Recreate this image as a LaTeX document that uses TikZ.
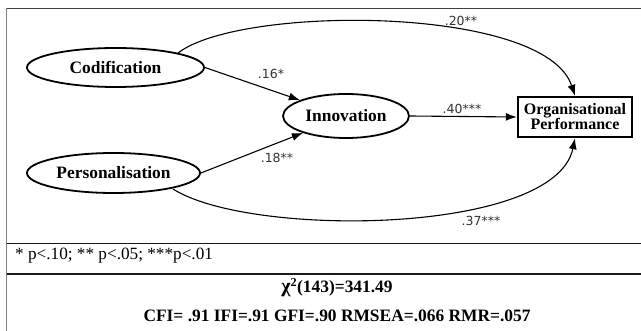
\documentclass[tikz,border=0pt]{standalone}
\usepackage{fontspec}
\setmainfont{Liberation Serif}
\newfontfamily\labfont{DejaVu Sans}
\usetikzlibrary{arrows.meta,shapes.geometric}
\begin{document}
\begin{tikzpicture}[x=1pt,y=-1pt,
  construct/.style={ellipse,draw,line width=1.8pt,inner sep=0pt,
    font=\fontsize{17.4}{18}\selectfont\bfseries},
  outcome/.style={rectangle,draw,line width=2.4pt,inner sep=0pt,align=center,
    minimum width=114pt,minimum height=40pt,
    font=\fontsize{16}{15}\selectfont\bfseries},
  path/.style={line width=1.1pt,-{Latex[length=11pt,width=8pt]}},
  coef/.style={font=\labfont\fontsize{12.5}{13}\selectfont,text=black!80,inner sep=0pt},
  rule/.style={line width=1.8pt,black!90},
  txt/.style={inner sep=0pt,font=\fontsize{17.2}{18}\selectfont}
]
\useasboundingbox (0,0) rectangle (641,331);
\fill[white] (0,0) rectangle (641,331);
% frame
\draw[line width=1.5pt,black!75] (6.5,8.5) -- (641,8.5);
\draw[line width=1.6pt,black!50] (6.5,8.5) -- (6.5,331);
\draw[rule] (6.5,243.5) -- (641,243.5);
\draw[rule] (6.5,274) -- (641,274);

% nodes
\node[construct,minimum width=177pt,minimum height=39pt] (cod) at (115.5,67.5) {Codification};
\node[construct,minimum width=173pt,minimum height=40pt] (per) at (113.5,173) {Personalisation};
\node[construct,minimum width=126pt,minimum height=44pt] (inn) at (346,116) {Innovation};
\node[outcome] (op) at (575,117) {Organisational\\Performance};

% paths
\draw[path] (cod.east) -- (inn);
\draw[path] (per.east) -- (inn);
\draw[path] (inn.east) -- (op.west);
\coordinate (codtop) at (178,53);
\coordinate (pertop) at (173,189);
\draw[path] (codtop) .. controls (240,5) and (545,5) .. (op.north);
\draw[path] (pertop) .. controls (250,238) and (555,235) .. (op.south);

% coefficients
\node[coef] (c16) at (271,74) {.16*};
\node[coef] (c18) at (277,158) {.18**};
\node[coef] (c40) at (462,109) {.40***};
\node[coef] (c20) at (461,21) {.20**};
\node[coef] (c37) at (481,221) {.37***};

% notes
\node[txt,anchor=base west] (note) at (15,260) {* p<.10; ** p<.05; ***p<.01};
\node[txt,anchor=base,font=\fontsize{17.4}{18}\selectfont\bfseries] (chi) at (337,293) {{\fontsize{20}{20}\selectfont χ}\textsuperscript{2}(143)=341.49};
\node[txt,anchor=base,font=\fontsize{17.4}{18}\selectfont\bfseries] (fit) at (337,322) {CFI= .91 IFI=.91 GFI=.90 RMSEA=.066 RMR=.057};
\end{tikzpicture}
\end{document}
